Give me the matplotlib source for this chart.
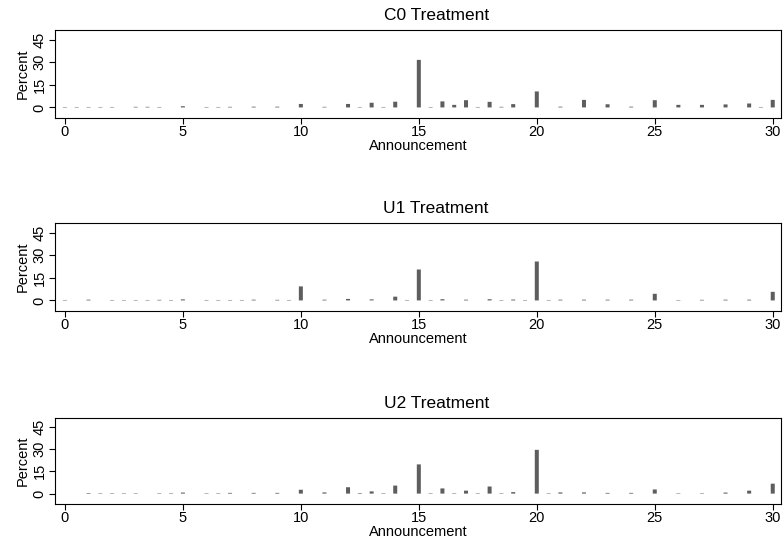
import matplotlib
matplotlib.use("Agg")
import matplotlib.pyplot as plt

plt.rcParams['font.family'] = ['Liberation Sans', 'DejaVu Sans']

announcement = [0, 0.5, 1, 1.5, 2, 2.5, 3, 3.5, 4, 4.5, 5, 5.5, 6, 6.5, 7, 7.5, 8, 8.5, 9, 9.5,
                10, 10.5, 11, 11.5, 12, 12.5, 13, 13.5, 14, 14.5, 15, 15.5, 16, 16.5, 17, 17.5,
                18, 18.5, 19, 19.5, 20, 20.5, 21, 21.5, 22, 22.5, 23, 23.5, 24, 24.5, 25, 25.5,
                26, 26.5, 27, 27.5, 28, 28.5, 29, 29.5, 30]

c0_pct = [0.3, 0.3, 0.3, 0.3, 0.3, 0, 0.4, 0.4, 0.3, 0, 0.8, 0, 0.3, 0.3, 0.4, 0, 0.5, 0, 0.5, 0,
          2.3, 0, 0.4, 0, 2.3, 0.3, 3.1, 0.3, 3.8, 0, 31.5, 0.3, 4.0, 1.7, 4.8, 0.3,
          3.7, 0.4, 2.2, 0, 10.6, 0, 0.5, 0, 5.0, 0, 2.1, 0, 0.5, 0, 4.8, 0,
          1.7, 0, 1.7, 0, 2.0, 0, 2.6, 0.3, 5.0]

u1_pct = [0.3, 0, 0.5, 0, 0.3, 0.3, 0.3, 0.3, 0.4, 0.3, 0.7, 0, 0.3, 0.3, 0.3, 0.3, 0.5, 0, 0.4, 0.3,
          9.3, 0, 0.5, 0, 1.0, 0, 0.7, 0, 2.5, 0.3, 20.5, 0.3, 0.8, 0, 0.5, 0,
          0.8, 0.3, 0.6, 0.3, 25.8, 0.3, 0.5, 0, 0.5, 0, 0.5, 0, 0.5, 0, 4.4, 0,
          0.3, 0, 0.4, 0, 0.5, 0, 0.5, 0, 5.7]

u2_pct = [0, 0, 0.4, 0.3, 0.3, 0.3, 0.3, 0, 0.3, 0.3, 0.7, 0, 0.3, 0.3, 0.5, 0, 0.5, 0, 0.5, 0,
          2.6, 0, 0.8, 0, 4.3, 0.4, 1.5, 0.3, 5.4, 0, 19.7, 0.3, 3.5, 0.3, 2.0, 0.3,
          4.8, 0.3, 1.0, 0, 29.5, 0.3, 0.8, 0, 0.8, 0, 0.5, 0, 0.5, 0, 2.8, 0,
          0.3, 0, 0.3, 0, 0.7, 0, 2.0, 0, 6.7]

titles = ["C0 Treatment", "U1 Treatment", "U2 Treatment"]
series = [c0_pct, u1_pct, u2_pct]
xticks = [0, 5, 10, 15, 20, 25, 30]
yticks = [0, 15, 30, 45]

W, H = 784, 550
fig = plt.figure(figsize=(W / 100, H / 100), dpi=100)

# axes boxes in pixel coords: (top, bottom)
boxes = [(30, 118), (223, 311), (417.5, 504)]
left_px, right_px = 55, 781

for (top, bot), title, vals in zip(boxes, titles, series):
    ax = fig.add_axes([left_px / W, 1 - bot / H, (right_px - left_px) / W, (bot - top) / H])
    bars = ax.bar(announcement, vals, width=0.17, color='#5e5e5e', linewidth=0)
    for b in bars:
        b.set_snap(False)
    ax.set_xlim(-0.42, 30.35)
    ax.set_ylim(-7.0, 51.3)
    ax.set_xticks(xticks)
    ax.set_yticks(yticks)
    ax.set_yticklabels([str(t) for t in yticks], rotation=90, va='center')
    ax.tick_params(axis='both', direction='out', length=4, width=0.8, labelsize=10.5,
                   colors='black', pad=2)
    ax.tick_params(axis='x', pad=1)
    for sp in ax.spines.values():
        sp.set_linewidth(0.8)
        sp.set_color('black')
    ax.set_title(title, fontsize=12.5, pad=7, x=0.525)
    ax.set_xlabel("Announcement", fontsize=10.5, labelpad=0)
    ax.set_ylabel("Percent", fontsize=10.5, labelpad=2)

fig.savefig("out.png", dpi=100)
